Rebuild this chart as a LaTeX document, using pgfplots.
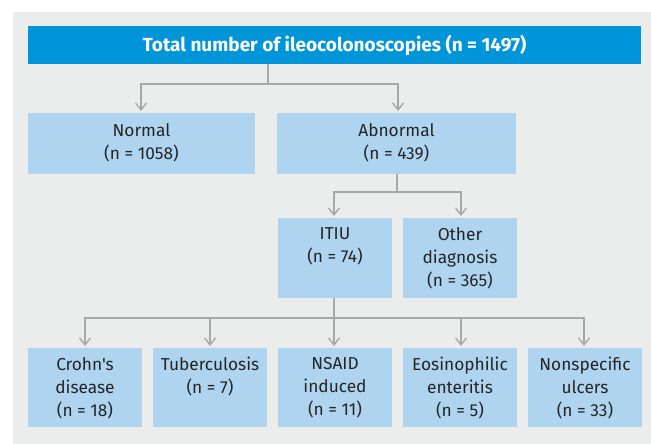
\documentclass[border=0pt]{standalone}
\usepackage{fontspec}
\setmainfont{Fira Sans}[Ligatures=TeXOff]
\usepackage{pgfplots}
\pgfplotsset{compat=1.18}
\usetikzlibrary{arrows.meta}
\definecolor{bggray}{HTML}{EBECEC}
\definecolor{topblue}{HTML}{0095D9}
\definecolor{lblue}{HTML}{AED4F0}
\definecolor{conngray}{HTML}{A8A8A8}
\definecolor{txtcol}{HTML}{252525}
\tikzset{
  cboth/.style={conngray,line width=2pt,line join=miter,
    {Straight Barb[length=7pt,width=11pt,line width=1.4pt]}-{Straight Barb[length=7pt,width=11pt,line width=1.4pt]}},
  cline/.style={conngray,line width=2pt,line join=miter},
  carrow/.style={conngray,line width=2pt,-{Straight Barb[length=7pt,width=11pt,line width=1.4pt]}},
  lbl/.style={font=\fontsize{17.3}{23}\selectfont,text=txtcol,align=center,anchor=north,inner sep=0pt}}
\newcommand{\boxat}[5]{\addplot[fill=#5,draw=none] coordinates {(#1,#3)(#2,#3)(#2,#4)(#1,#4)} -- cycle;}
\begin{document}
\begin{tikzpicture}
\begin{axis}[width=651pt,height=444pt,scale only axis,
  xmin=0,xmax=651,ymin=0,ymax=444,y dir=reverse,axis lines=none,clip=false]
\addplot[fill=white,draw=none] coordinates {(0,0)(651,0)(651,444)(0,444)} -- cycle;
\addplot[fill=bggray,draw=none] coordinates {(13,12)(651,12)(651,444)(13,444)} -- cycle;
% boxes
\boxat{28}{641}{26}{64}{topblue}
\boxat{28}{255}{113}{174}{lblue}
\boxat{277}{516}{113}{174}{lblue}
\boxat{278}{392}{218}{298}{lblue}
\boxat{403}{517}{218}{298}{lblue}
\boxat{28}{142}{348}{427}{lblue}
\boxat{153}{267}{348}{427}{lblue}
\boxat{278}{392}{348}{427}{lblue}
\boxat{403}{517}{348}{427}{lblue}
\boxat{528}{642}{348}{427}{lblue}
% connectors
\addplot[cline] coordinates {(268,64)(268,84)};
\addplot[cboth] coordinates {(141,111)(141,84)(398,84)(398,111)};
\addplot[cline] coordinates {(397,174)(397,192)};
\addplot[cboth] coordinates {(334,216)(334,192)(461,192)(461,216)};
\addplot[cline] coordinates {(334,298)(334,318)};
\addplot[cboth] coordinates {(85,346)(85,318)(584,318)(584,346)};
\addplot[carrow] coordinates {(210,318)(210,346)};
\addplot[carrow] coordinates {(334,318)(334,346)};
\addplot[carrow] coordinates {(461,318)(461,346)};
% labels
\node[font=\fontsize{19}{23}\bfseries\selectfont,text=white,inner sep=0pt] at (axis cs:334.5,45.5) {Total number of ileocolonoscopies (n = 1497)};
\node[lbl] at (axis cs:141.5,123) {Normal\\(n = 1058)};
\node[lbl] at (axis cs:396.5,123) {Abnormal\\(n = 439)};
\node[lbl] at (axis cs:335,227) {ITIU\\(n = 74)};
\node[lbl] at (axis cs:460,227) {Other\\diagnosis\\(n = 365)};
\node[lbl] at (axis cs:85,357) {Crohn's\\disease\\(n = 18)};
\node[lbl] at (axis cs:210,357) {Tuberculosis\\(n = 7)};
\node[lbl] at (axis cs:335,357) {NSAID\\induced\\(n = 11)};
\node[lbl] at (axis cs:460,357) {Eosinophilic\\enteritis\\(n = 5)};
\node[lbl] at (axis cs:585,357) {Nonspecific\\ulcers\\(n = 33)};
\end{axis}
\end{tikzpicture}
\end{document}
